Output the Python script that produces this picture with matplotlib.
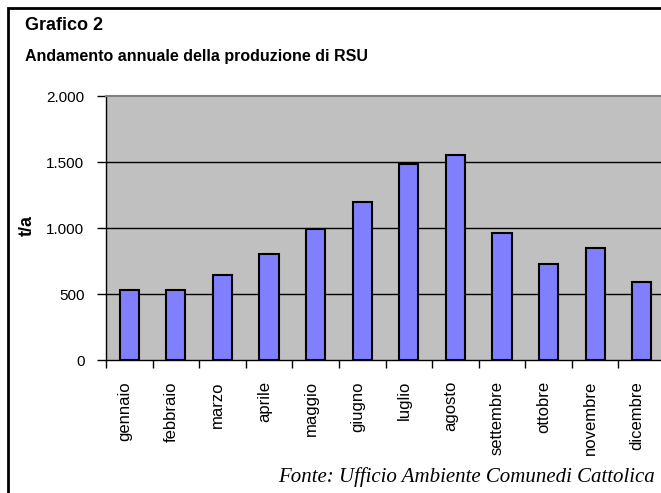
import matplotlib.pyplot as plt
from matplotlib.patches import Rectangle

# Data
months = ['gennaio', 'febbraio', 'marzo', 'aprile', 'maggio', 'giugno',
          'luglio', 'agosto', 'settembre', 'ottobre', 'novembre', 'dicembre']
tonnes = [530, 530, 645, 800, 995, 1200, 1482, 1555, 965, 728, 852, 588]
yticks = [0, 500, 1000, 1500, 2000]
ytick_labels = ['0', '500', '1.000', '1.500', '2.000']

plt.rcParams['font.family'] = ['Liberation Sans', 'DejaVu Sans']

fig = plt.figure(figsize=(6.61, 4.93), dpi=100)
W, H = 661, 493

# outer frame (right/bottom edges fall outside the image)
fig.patches.append(Rectangle((8 / W, -0.1), 1.2, 1 - 8 / H + 0.1, transform=fig.transFigure,
                             fill=False, edgecolor='black', linewidth=2))

ax = fig.add_axes([106 / W, 1 - 360 / H, 559 / W, 264 / H])
ax.set_facecolor('#C0C0C0')
x = range(len(months))
ax.bar(x, tonnes, width=0.41, color='#8080FF', edgecolor='black', linewidth=1.5, zorder=3)
ax.set_xlim(-0.5, len(months) - 0.5)
ax.set_ylim(0, 2000)

for v in yticks[1:-1]:
    ax.axhline(v, color='black', linewidth=1, zorder=1)

ax.spines['top'].set_color('#808080')
ax.spines['top'].set_linewidth(1.5)
ax.spines['right'].set_visible(False)
ax.spines['left'].set_linewidth(1)
ax.spines['bottom'].set_linewidth(1)

ax.set_yticks(yticks)
ax.set_yticklabels(ytick_labels, fontsize=11)
ax.tick_params(axis='y', length=6.5, width=1, pad=9)

ax.set_xticks([i + 0.5 for i in range(-1, len(months))], minor=False)
ax.set_xticklabels([])
ax.tick_params(axis='x', length=6, width=1)
for i, m in enumerate(months):
    ax.text(i - 0.1, -0.08, m, transform=ax.get_xaxis_transform(), rotation=90,
            ha='center', va='top', fontsize=12)

fig.text(27 / W, 1 - 225 / H, 't/a', rotation=90, ha='center', va='center',
         fontsize=13, fontweight='bold')

fig.text(25 / W, 1 - 25 / H, 'Grafico 2', ha='left', va='center',
         fontsize=13, fontweight='bold')
fig.text(25 / W, 1 - 57 / H, 'Andamento annuale della produzione di RSU', ha='left',
         va='center', fontsize=11.5, fontweight='bold')

fig.text(655 / W, 1 - 477 / H, 'Fonte: Ufficio Ambiente Comunedi Cattolica', ha='right',
         va='center', fontsize=15, style='italic', family=['Liberation Serif', 'DejaVu Serif'])

fig.savefig('out.png', dpi=100)
